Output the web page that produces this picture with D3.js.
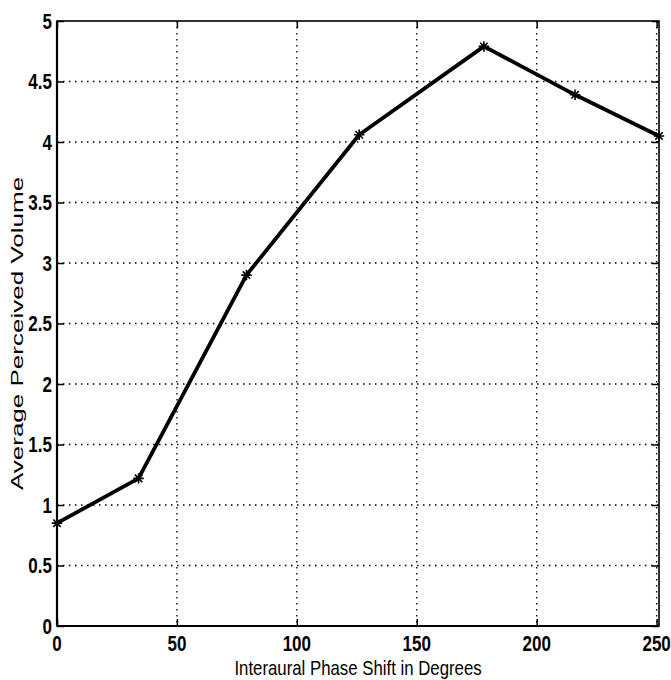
<!DOCTYPE html>
<html>
<head>
<meta charset="utf-8">
<script src="https://cdn.jsdelivr.net/npm/d3@7"></script>
<style>
  html, body { margin: 0; padding: 0; background: #fff; }
  svg { display: block; }
</style>
</head>
<body>
<svg id="chart" width="671" height="680"></svg>
<script>
// Measured data: interaural phase shift (degrees) vs. average perceived volume
const phaseShift = [0, 34, 79, 126, 178, 216, 251];
const perceivedVolume = [0.85, 1.22, 2.90, 4.06, 4.79, 4.39, 4.05];
const xTicks = [0, 50, 100, 150, 200, 250];
const yTicks = [0, 0.5, 1, 1.5, 2, 2.5, 3, 3.5, 4, 4.5, 5];
const xTitle = "Interaural Phase Shift in Degrees";
const yTitle = "Average Perceived Volume";

const W = 671, H = 680;
const margin = { top: 21, right: 12, bottom: 54, left: 57 };
const iw = W - margin.left - margin.right;
const ih = H - margin.top - margin.bottom;
const FONT = '"Liberation Sans", Arial, Helvetica, sans-serif';
const TALL = 1.25; // glyphs are drawn taller than wide

const svg = d3.select("#chart");
const g = svg.append("g").attr("transform", `translate(${margin.left},${margin.top})`);

const x = d3.scaleLinear().domain([0, 251]).range([0, iw]);
const y = d3.scaleLinear().domain([0, 5]).range([ih, 0]);

// dotted grid
g.append("g").selectAll("line").data(xTicks.filter(d => d > 0 && d < 251)).join("line")
  .attr("x1", d => x(d)).attr("x2", d => x(d)).attr("y1", 0).attr("y2", ih)
  .attr("stroke", "#000").attr("stroke-width", 1.3).attr("stroke-dasharray", "1.5,4.5");
g.append("g").selectAll("line").data(yTicks.filter(d => d > 0 && d < 5)).join("line")
  .attr("x1", 0).attr("x2", iw).attr("y1", d => y(d)).attr("y2", d => y(d))
  .attr("stroke", "#000").attr("stroke-width", 1.3).attr("stroke-dasharray", "1.5,4.5");

// axes with inward ticks on all four sides
const tickLen = 7;
const bottomAxis = g.append("g").attr("transform", `translate(0,${ih})`)
  .call(d3.axisBottom(x).tickValues(xTicks).tickSizeInner(-tickLen).tickSizeOuter(0).tickFormat(""));
const leftAxis = g.append("g")
  .call(d3.axisLeft(y).tickValues(yTicks).tickSizeInner(-tickLen).tickSizeOuter(0).tickFormat(""));
const topAxis = g.append("g")
  .call(d3.axisTop(x).tickValues(xTicks).tickSizeInner(-tickLen).tickSizeOuter(0).tickFormat(""));
const rightAxis = g.append("g").attr("transform", `translate(${iw},0)`)
  .call(d3.axisRight(y).tickValues(yTicks).tickSizeInner(-tickLen).tickSizeOuter(0).tickFormat(""));

[bottomAxis, leftAxis, topAxis, rightAxis].forEach(a => {
  a.select(".domain").remove();
  a.selectAll(".tick text").remove();
  a.selectAll(".tick line").attr("stroke", "#000").attr("stroke-width", 1.5);
});

// tick labels, placed by the same scales
const tickFont = s => s.style("font-family", FONT).style("font-size", "17px")
  .style("font-weight", "bold").attr("fill", "#000");
g.append("g").selectAll("text").data(xTicks).join("text")
  .attr("transform", d => `translate(${x(d)},${ih + 25}) scale(1,${TALL})`)
  .attr("text-anchor", "middle")
  .call(tickFont)
  .text(d3.format("d"));
g.append("g").selectAll("text").data(yTicks).join("text")
  .attr("transform", d => `translate(-5,${y(d) + 7.6}) scale(1,${TALL})`)
  .attr("text-anchor", "end")
  .call(tickFont)
  .text(d => String(d));

// plot box
g.append("rect").attr("x", 0).attr("y", 0).attr("width", iw).attr("height", ih)
  .attr("fill", "none").attr("stroke", "#000").attr("stroke-width", 1.6);
g.append("line").attr("x1", 0).attr("x2", 0).attr("y1", 0).attr("y2", ih)
  .attr("stroke", "#000").attr("stroke-width", 2.2);
g.append("line").attr("x1", 0).attr("x2", iw).attr("y1", ih).attr("y2", ih)
  .attr("stroke", "#000").attr("stroke-width", 2.2);

// data line
const pts = phaseShift.map((d, i) => [d, perceivedVolume[i]]);
g.append("path").datum(pts)
  .attr("fill", "none").attr("stroke", "#000").attr("stroke-width", 3.8)
  .attr("stroke-linejoin", "round")
  .attr("d", d3.line().x(d => x(d[0])).y(d => y(d[1])));

// eight-armed star markers
const star = {
  draw(ctx, size) {
    const r = Math.sqrt(size) / 2;
    const k = r * Math.SQRT1_2;
    ctx.moveTo(-r, 0); ctx.lineTo(r, 0);
    ctx.moveTo(0, -r); ctx.lineTo(0, r);
    ctx.moveTo(-k, -k); ctx.lineTo(k, k);
    ctx.moveTo(-k, k); ctx.lineTo(k, -k);
  }
};
g.append("g").selectAll("path").data(pts).join("path")
  .attr("transform", d => `translate(${x(d[0])},${y(d[1])})`)
  .attr("d", d3.symbol().type(star).size(110))
  .attr("fill", "none").attr("stroke", "#000").attr("stroke-width", 1.6);

// axis titles
svg.append("text")
  .attr("transform", `translate(${margin.left + iw / 2},675) scale(1.05,1.25)`)
  .attr("text-anchor", "middle")
  .style("font-family", FONT).style("font-size", "16px")
  .text(xTitle);
svg.append("text")
  .attr("transform", `translate(23,${margin.top + ih / 2 + 10}) rotate(-90) scale(1.53,1)`)
  .attr("text-anchor", "middle")
  .style("font-family", FONT).style("font-size", "17px")
  .text(yTitle);
</script>
</body>
</html>
